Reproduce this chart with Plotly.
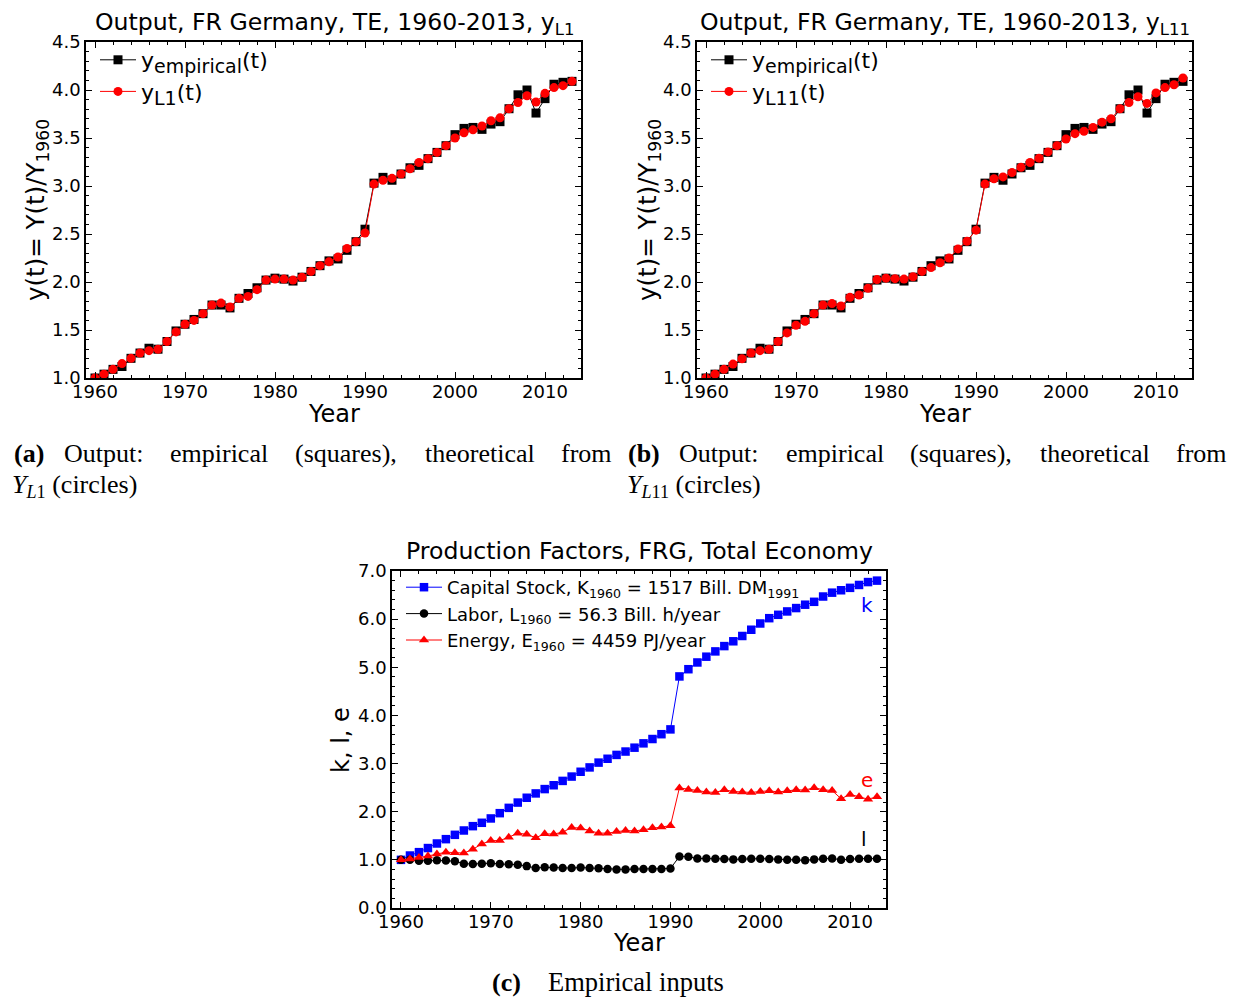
import plotly.graph_objects as go

W, H = 1234, 999

years = list(range(1960, 2014))

y_empirical = [1.00, 1.04, 1.09, 1.12, 1.205, 1.26, 1.31, 1.30, 1.38, 1.49,
               1.56, 1.61, 1.67, 1.76, 1.76, 1.73, 1.83, 1.88, 1.94, 2.02,
               2.04, 2.03, 2.01, 2.05, 2.11, 2.17, 2.22, 2.24, 2.33, 2.42,
               2.55, 3.03, 3.09, 3.06, 3.125, 3.19, 3.215, 3.285, 3.35, 3.42,
               3.535, 3.60, 3.61, 3.59, 3.645, 3.67, 3.805, 3.95, 4.00, 3.76,
               3.91, 4.06, 4.08, 4.09]

y_L1 = [1.00, 1.04, 1.09, 1.15, 1.205, 1.26, 1.285, 1.30, 1.38, 1.48,
        1.56, 1.60, 1.67, 1.76, 1.78, 1.74, 1.83, 1.85, 1.92, 2.02,
        2.03, 2.03, 2.02, 2.05, 2.11, 2.17, 2.21, 2.26, 2.35, 2.42,
        2.51, 3.02, 3.06, 3.08, 3.125, 3.18, 3.245, 3.285, 3.35, 3.42,
        3.50, 3.555, 3.585, 3.625, 3.68, 3.71, 3.805, 3.87, 3.94, 3.875,
        3.965, 4.025, 4.045, 4.09]

y_L11 = [1.00, 1.04, 1.09, 1.145, 1.20, 1.26, 1.285, 1.30, 1.38, 1.47,
         1.55, 1.59, 1.67, 1.76, 1.775, 1.75, 1.84, 1.865, 1.935, 2.025,
         2.04, 2.035, 2.03, 2.055, 2.11, 2.15, 2.20, 2.25, 2.345, 2.425,
         2.54, 3.02, 3.075, 3.095, 3.14, 3.195, 3.245, 3.29, 3.355, 3.42,
         3.49, 3.545, 3.57, 3.61, 3.665, 3.70, 3.805, 3.87, 3.93, 3.86,
         3.97, 4.025, 4.055, 4.125]

capital_k = [1.00, 1.09, 1.16, 1.245, 1.34, 1.43, 1.52, 1.61, 1.70, 1.77,
             1.86, 1.97, 2.08, 2.19, 2.29, 2.38, 2.47, 2.55, 2.64, 2.73,
             2.83, 2.92, 3.02, 3.10, 3.18, 3.25, 3.33, 3.42, 3.51, 3.61,
             3.71, 4.81, 4.96, 5.10, 5.22, 5.33, 5.44, 5.54, 5.65, 5.78,
             5.91, 6.02, 6.09, 6.16, 6.23, 6.30, 6.36, 6.47, 6.55, 6.60,
             6.65, 6.71, 6.77, 6.80]

labor_l = [1.00, 1.00, 0.98, 0.98, 0.99, 0.985, 0.97, 0.92, 0.915, 0.92,
           0.93, 0.915, 0.91, 0.90, 0.87, 0.83, 0.845, 0.84, 0.83, 0.83,
           0.84, 0.83, 0.825, 0.81, 0.80, 0.80, 0.81, 0.81, 0.81, 0.81,
           0.82, 1.07, 1.065, 1.03, 1.03, 1.025, 1.02, 1.01, 1.02, 1.025,
           1.025, 1.02, 1.01, 1.00, 1.00, 0.99, 1.01, 1.025, 1.03, 1.00,
           1.02, 1.025, 1.025, 1.025]

energy_e = [1.00, 1.02, 1.05, 1.08, 1.12, 1.16, 1.15, 1.14, 1.22, 1.33,
            1.40, 1.40, 1.47, 1.555, 1.53, 1.46, 1.54, 1.535, 1.575, 1.67,
            1.66, 1.60, 1.555, 1.555, 1.59, 1.61, 1.60, 1.625, 1.665, 1.68,
            1.71, 2.495, 2.46, 2.44, 2.41, 2.40, 2.455, 2.42, 2.41, 2.40,
            2.42, 2.435, 2.41, 2.435, 2.455, 2.45, 2.50, 2.455, 2.44, 2.27,
            2.36, 2.31, 2.26, 2.31]

title_a = "Output, FR Germany, TE, 1960-2013, y<sub>L1</sub>"
title_b = "Output, FR Germany, TE, 1960-2013, y<sub>L11</sub>"
title_c = "Production Factors, FRG, Total Economy"

FONT = "DejaVu Sans"
SERIF = "Liberation Serif"


def px_x(p):
    return p / W


def px_y(p):
    return 1 - p / H


def make_axes(xd, yd, yr, ydt, ymin, anchor_x, anchor_y):
    common = dict(showline=True, linecolor="black", linewidth=1.5,
                  mirror="allticks", ticks="inside", ticklen=6, tickwidth=1,
                  tickcolor="black", showgrid=False, zeroline=False,
                  automargin=False,
                  tickfont=dict(family=FONT, size=18, color="black"))
    xa = dict(common, domain=xd, range=[1959, 2014], tick0=1960, dtick=10,
              anchor=anchor_y, ticklabelstandoff=-3,
              minor=dict(ticks="inside", ticklen=3, tick0=1960, dtick=2,
                         tickcolor="black", showgrid=False))
    ya = dict(common, domain=yd, range=yr, tick0=0, dtick=ydt,
              tickformat=".1f", anchor=anchor_x,
              minor=dict(ticks="inside", ticklen=3, tick0=0, dtick=ymin,
                         tickcolor="black", showgrid=False))
    return xa, ya


SUB_BIG = '<sub><span style="font-size:19px">{}</span></sub>'

fig = go.Figure()

# Panel (a)
fig.add_trace(go.Scatter(x=years, y=y_empirical, mode="lines+markers",
                         name="y" + SUB_BIG.format("empirical") + "(t)",
                         line=dict(color="black", width=1),
                         marker=dict(symbol="square", size=9, color="black"),
                         xaxis="x", yaxis="y", legend="legend"))
fig.add_trace(go.Scatter(x=years, y=y_L1, mode="lines+markers",
                         name="y" + SUB_BIG.format("L1") + "(t)",
                         line=dict(color="red", width=1),
                         marker=dict(symbol="circle", size=9, color="red"),
                         xaxis="x", yaxis="y", legend="legend"))

# Panel (b)
fig.add_trace(go.Scatter(x=years, y=y_empirical, mode="lines+markers",
                         name="y" + SUB_BIG.format("empirical") + "(t)",
                         line=dict(color="black", width=1),
                         marker=dict(symbol="square", size=9, color="black"),
                         xaxis="x2", yaxis="y2", legend="legend2"))
fig.add_trace(go.Scatter(x=years, y=y_L11, mode="lines+markers",
                         name="y" + SUB_BIG.format("L11") + "(t)",
                         line=dict(color="red", width=1),
                         marker=dict(symbol="circle", size=9, color="red"),
                         xaxis="x2", yaxis="y2", legend="legend2"))

# Panel (c)
fig.add_trace(go.Scatter(x=years, y=capital_k, mode="lines+markers",
                         name="Capital Stock, K<sub>1960</sub> = 1517 Bill. DM<sub>1991</sub>",
                         line=dict(color="blue", width=1),
                         marker=dict(symbol="square", size=8.5, color="blue"),
                         xaxis="x3", yaxis="y3", legend="legend3"))
fig.add_trace(go.Scatter(x=years, y=labor_l, mode="lines+markers",
                         name="Labor, L<sub>1960</sub> = 56.3 Bill. h/year",
                         line=dict(color="black", width=1),
                         marker=dict(symbol="circle", size=8.5, color="black"),
                         xaxis="x3", yaxis="y3", legend="legend3"))
fig.add_trace(go.Scatter(x=years, y=energy_e, mode="lines+markers",
                         name="Energy, E<sub>1960</sub> = 4459 PJ/year",
                         line=dict(color="red", width=1),
                         marker=dict(symbol="triangle-up", size=9, color="red"),
                         xaxis="x3", yaxis="y3", legend="legend3"))

xa1, ya1 = make_axes([px_x(86), px_x(581)], [px_y(378), px_y(42)],
                     [1.0, 4.5], 0.5, 0.1, "x", "y")
xa2, ya2 = make_axes([px_x(697), px_x(1192)], [px_y(378), px_y(42)],
                     [1.0, 4.5], 0.5, 0.1, "x2", "y2")
xa3, ya3 = make_axes([px_x(392), px_x(886)], [px_y(908), px_y(571)],
                     [0.0, 7.0], 1.0, 0.2, "x3", "y3")

legend_common = dict(bgcolor="rgba(0,0,0,0)", borderwidth=0,
                     xanchor="left", yanchor="top", tracegroupgap=0,
                     itemwidth=36, traceorder="normal")

annotations = []


def ann(text, x, y, size, family=FONT, color="black", angle=0,
        xanchor="center", yanchor="middle", xref="paper", yref="paper"):
    annotations.append(dict(text=text, x=x, y=y, xref=xref, yref=yref,
                            showarrow=False, textangle=angle,
                            xanchor=xanchor, yanchor=yanchor,
                            font=dict(family=family, size=size, color=color)))


# titles
ann(title_a, px_x(334), px_y(23), 23.6)
ann(title_b, px_x(945), px_y(23), 23.6)
ann(title_c, px_x(639), px_y(551), 23.6)
# axis titles
ann("Year", px_x(334), px_y(414), 24)
ann("Year", px_x(945), px_y(414), 24)
ann("Year", px_x(639), px_y(943), 24)
ann("y(t)= Y(t)/Y<sub>1960</sub>", px_x(37), px_y(210), 24.5, angle=-90)
ann("y(t)= Y(t)/Y<sub>1960</sub>", px_x(649), px_y(210), 24.5, angle=-90)
ann("k, l, e", px_x(341), px_y(740), 24, angle=-90)
# curve labels
ann("k", 2011.9, 6.3, 20, color="blue", xref="x3", yref="y3")
ann("e", 2011.9, 2.66, 20, color="red", xref="x3", yref="y3")
ann("l", 2011.6, 1.43, 20, color="black", xref="x3", yref="y3")

# captions (line 1 is justified in the reference: words placed one by one)
cap1_words = ["<b>(a)</b>", "Output:", "empirical", "(squares),",
              "theoretical", "from"]
cap1_centers = [28.5, 102, 216, 316, 430, 588]
cap1_centers = [28.5, 103, 219.5, 346, 480, 586]
cap2_words = ["<b>(b)</b>", "Output:", "empirical", "(squares),",
              "theoretical", "from"]
cap2_centers = [643.5, 718, 834.5, 961, 1095, 1201]
for wd, cx in zip(cap1_words, cap1_centers):
    ann(wd, px_x(cx), px_y(453), 26, family=SERIF)
for wd, cx in zip(cap2_words, cap2_centers):
    ann(wd, px_x(cx), px_y(453), 26, family=SERIF)
ann("<i>Y</i><sub><i>L</i>1</sub> (circles)", px_x(10), px_y(486), 26,
    family=SERIF, xanchor="left")
ann("<i>Y</i><sub><i>L</i>11</sub> (circles)", px_x(625), px_y(486), 26,
    family=SERIF, xanchor="left")
ann("<b>(c)</b>", px_x(506), px_y(982), 26, family=SERIF)
ann("Empirical inputs", px_x(636), px_y(982), 26.5, family=SERIF)

fig.update_layout(
    width=W, height=H,
    margin=dict(l=0, r=0, t=0, b=0, autoexpand=False),
    paper_bgcolor="white", plot_bgcolor="white",
    font=dict(family=FONT, color="black"),
    xaxis=xa1, yaxis=ya1, xaxis2=xa2, yaxis2=ya2, xaxis3=xa3, yaxis3=ya3,
    legend=dict(legend_common, x=px_x(95), y=px_y(39),
                font=dict(family=FONT, size=22, color="black")),
    legend2=dict(legend_common, x=px_x(706), y=px_y(39),
                 font=dict(family=FONT, size=22, color="black")),
    legend3=dict(legend_common, x=px_x(401), y=px_y(569),
                 font=dict(family=FONT, size=18, color="black")),
    annotations=annotations,
    showlegend=True,
)

fig.write_html("out.html")
